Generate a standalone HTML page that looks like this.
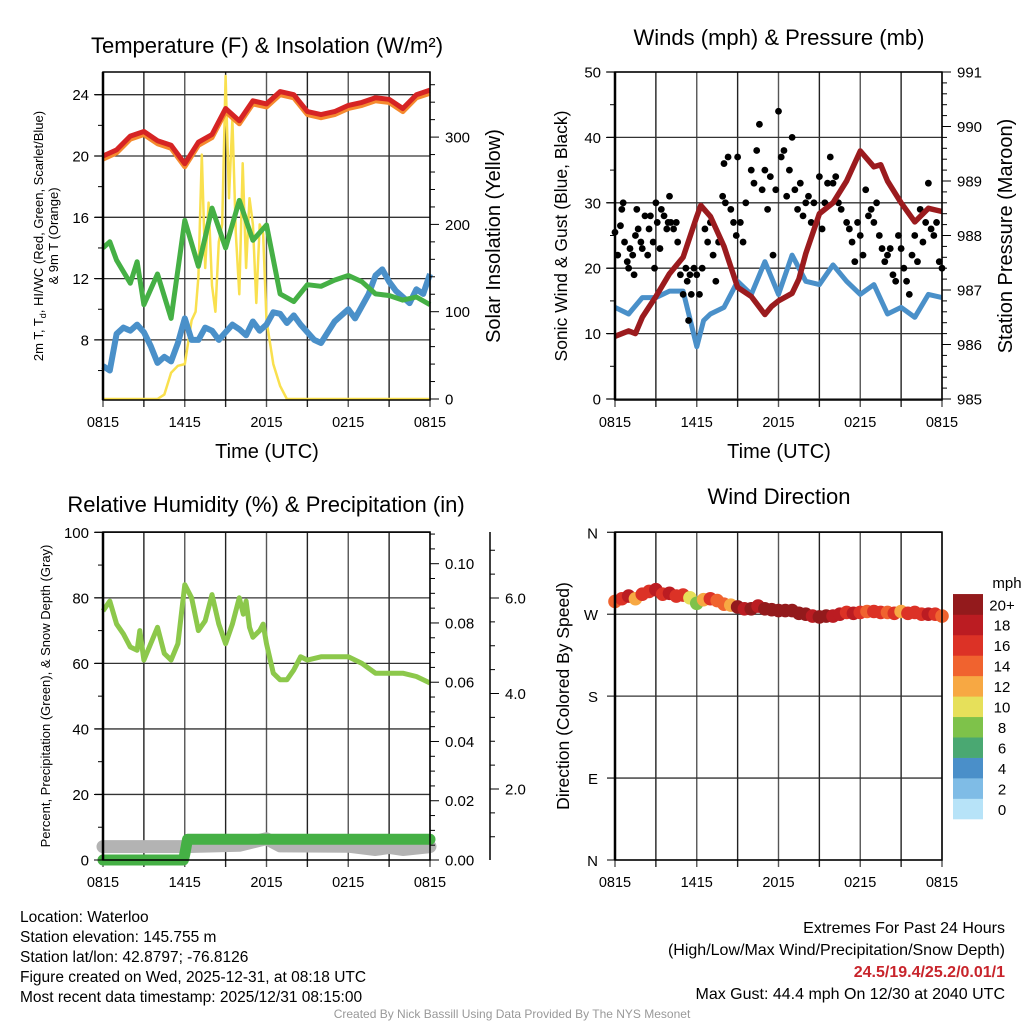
<!DOCTYPE html>
<html><head><meta charset="utf-8"><style>
html,body{margin:0;padding:0;background:#fff;}
svg{display:block;font-family:"Liberation Sans",Arial,sans-serif;}
</style></head><body>
<svg id="fig" width="1024" height="1024" viewBox="0 0 1024 1024" xmlns="http://www.w3.org/2000/svg">
<g id="layer"></g>
<g font-size="15.5" fill="#000">
<text x="20" y="922">Location: Waterloo</text>
<text x="20" y="942">Station elevation: 145.755 m</text>
<text x="20" y="962">Station lat/lon: 42.8797; -76.8126</text>
<text x="20" y="982">Figure created on Wed, 2025-12-31, at 08:18 UTC</text>
<text x="20" y="1002">Most recent data timestamp: 2025/12/31 08:15:00</text>
</g>
<g text-anchor="end" font-size="16">
<text x="1005" y="933">Extremes For Past 24 Hours</text>
<text x="1005" y="955">(High/Low/Max Wind/Precipitation/Snow Depth)</text>
<text x="1005" y="977" fill="#c8242b" font-weight="bold">24.5/19.4/25.2/0.01/1</text>
<text x="1005" y="999">Max Gust: 44.4 mph On 12/30 at 2040 UTC</text>
</g>
<text x="512" y="1018" text-anchor="middle" font-size="12" fill="#999">Created By Nick Bassill Using Data Provided By The NYS Mesonet</text>
</svg>
<script>
// ---------- DATA ----------
const timeTicks = ["0815","1415","2015","0215","0815"];
const hrs = [0,1,2,3,4,5,6,7,8,9,10,11,12,13,14,15,16,17,18,19,20,21,22,23,24];
const temp2m = [20.0,20.4,21.3,21.6,21.0,20.7,19.5,20.9,21.4,23.1,22.3,23.6,23.4,24.2,24.0,22.9,22.7,22.9,23.3,23.5,23.8,23.7,23.1,24.0,24.3];
const temp9m = [19.8,20.2,21.1,21.4,20.8,20.5,19.3,20.7,21.2,22.9,22.1,23.4,23.2,24.0,23.8,22.7,22.5,22.7,23.1,23.3,23.6,23.5,22.9,23.8,24.1];
const dewHrs = [0,0.5,1,2,2.5,3,4,5,6,7,8,9,10,11,12,13,14,15,16,17,18,19,20,21,22,23,24];
const dewpt = [14.0,14.4,13.2,11.7,13.1,10.3,12.3,9.4,15.8,12.8,16.6,14.0,17.1,14.5,15.5,11.0,10.5,11.6,11.5,11.9,12.2,11.8,11.0,10.9,10.6,10.8,10.3];
const chillHrs = [0,0.5,1,1.5,2,2.5,3,3.5,4,4.5,5,5.5,6,6.5,7,7.5,8,8.5,9,9.5,10,10.5,11,11.5,12,12.5,13,13.5,14,14.5,15,15.5,16,16.5,17,17.5,18,18.5,19,19.5,20,20.5,21,21.5,22,22.5,23,23.5,24];
const windchill = [6.3,6.0,8.4,8.8,8.6,9.0,8.5,7.6,6.5,6.9,6.6,7.8,9.4,8.0,8.0,8.8,8.6,8.0,8.5,9.0,8.7,8.3,9.2,8.6,9.0,9.8,9.7,9.1,9.6,9.0,8.5,8.0,7.8,8.5,9.2,9.6,10.0,9.4,10.2,11.0,12.2,12.6,11.8,11.2,10.8,10.4,11.3,11.0,12.3];
const solarHrs = [0,4,4.5,5,5.5,6,6.5,6.8,7,7.25,7.5,7.75,8,8.25,8.5,8.75,9,9.25,9.5,9.75,10,10.25,10.5,10.75,11,11.25,11.5,11.75,12,12.5,13,13.5,24];
const solar = [0,0,5,30,38,40,90,100,140,280,150,225,130,100,180,200,370,230,320,190,120,270,150,230,200,110,200,190,90,40,15,0,0];

const windHrs = [0,1,2,3,4,5,6,6.5,7,8,9,10,11,12,13,14,15,16,17,18,19,20,21,22,23,24];
const windSpd = [14,13,15.5,15.5,16.5,16.5,8,12,13,14,18,16,21,16,22,18,17.5,20.5,18,16,17.5,13,14,12.5,16,15.5];
const presHrs = [0,1,1.5,2,3,4,5,6,6.3,7,8,9,10,11,11.5,12,13,13.5,14,15,16,17,18,19,19.5,20,21,22,23,24];
const pressure = [986.15,986.25,986.2,986.5,986.88,987.3,987.6,988.35,988.55,988.35,987.8,987.05,986.88,986.55,986.7,986.8,986.94,987.2,987.67,988.4,988.6,989.0,989.55,989.26,989.3,989.0,988.6,988.25,988.5,988.44];
const gusts = [[0,25.5],[0.2,22],[0.4,26.5],[0.5,29],[0.6,30],[0.7,24],[0.9,21],[1,20],[1.1,23],[1.3,22],[1.4,19],[1.5,25],[1.6,29],[1.7,26],[1.9,24],[2,23],[2.2,28],[2.4,22],[2.5,26],[2.6,28],[2.8,24],[2.9,20],[3,30],[3.1,27],[3.3,23],[3.4,29],[3.6,28],[3.8,26],[3.9,27],[4,31],[4.1,27],[4.3,26],[4.5,27],[4.6,24],[4.8,19],[5,16],[5.2,20],[5.3,18],[5.4,12],[5.5,19],[5.6,16],[5.8,20],[6,19],[6.2,16],[6.4,20],[6.6,26],[6.8,24],[7,27],[7.2,22],[7.4,18],[7.6,24],[7.9,31],[8,36],[8.1,30],[8.3,37],[8.5,29],[8.7,27],[8.9,25],[9,37],[9.2,27],[9.4,24],[9.6,30],[10,35],[10.2,33],[10.4,38],[10.6,42],[10.8,32],[11,35],[11.2,29],[11.4,34],[11.6,22],[11.8,32],[12,44],[12.2,37],[12.4,38],[12.6,31],[12.8,35],[13,40],[13.2,32],[13.4,29],[13.6,33],[13.8,28],[14,30],[14.2,31],[14.4,27],[14.6,30],[15,34],[15.2,26],[15.4,30],[15.6,33],[15.8,37],[16,33],[16.2,34],[16.4,30],[16.6,29],[17,27],[17.2,26],[17.4,24],[17.6,21],[17.8,27],[18,25],[18.2,22],[18.4,32],[18.6,28],[18.8,29],[19,27],[19.2,30],[19.4,25],[19.6,23],[19.8,21],[20,22],[20.2,23],[20.4,19],[20.6,18],[20.8,25],[21,23],[21.2,20],[21.4,18],[21.6,16],[21.8,22],[22,25],[22.2,21],[22.4,29],[22.6,24],[22.8,27],[23,33],[23.2,26],[23.4,25],[23.6,27],[23.8,21],[24,20]];

const rhHrs = [0,0.5,1,1.5,2,2.5,2.7,3,3.5,4,4.5,5,5.5,6,6.5,7,7.5,8,8.5,9,9.5,10,10.3,10.5,10.75,11,11.5,11.75,12,12.5,13,13.5,14,14.5,15,16,17,18,19,20,21,22,23,24];
const rh = [76,79,72,69,65,64,70,61,66,71,63,61,66,84,80,70,73,81,72,66,72,80,75,79,71,68,70,72,66,57,55,55,58,62,61,62,62,62,60,57,57,57,56,54];
const precipHrs = [0,5.9,6.0,6.2,24];
const precip = [0,0,0.002,0.007,0.007];
const snowHrs = [0,6,10,12,13,18,20,21,22,24];
const snow = [4.1,4.1,4.5,6.5,4.3,4.2,3.2,3.8,3.2,4.1];

const dirHrs = chillHrs;
const direction = [284,287,290,287,292,295,297,292,293,290,291,288,282,286,287,285,281,280,278,276,276,279,276,275,274,274,274,271,270,268,267,268,268,270,272,271,272,273,273,272,272,271,273,271,272,270,270,270,268];
const dirSpeed = [14,16,18,13,16,17,18,17,18,16,17,11,8,12,16,14,14,12,20,19,20,18,20,20,20,20,20,20,20,19,20,20,18,18,17,18,17,14,17,16,14,16,13,17,16,17,18,16,14];
const cbLabels = ["0","2","4","6","8","10","12","14","16","18","20+"];
const cbColors = ["#b7e3f8","#7fbce6","#4a8fc9","#4aa872","#7ec24a","#e6e05a","#f7a843","#f0632f","#dc3226","#bb1c22","#931a1c"];

// ---------- DRAWING ----------
const NS="http://www.w3.org/2000/svg";
const root=document.getElementById('layer');
function el(tag,attrs,parent){const e=document.createElementNS(NS,tag);for(const k in attrs)e.setAttribute(k,attrs[k]);(parent||root).appendChild(e);return e;}
function txt(s,attrs,parent){const e=el('text',attrs,parent);e.textContent=s;return e;}
function scale(d0,d1,r0,r1){return v=>r0+(v-d0)/(d1-d0)*(r1-r0);}
function pathFrom(xs,ys,fx,fy){return xs.map((h,i)=>(i?'L':'M')+fx(h).toFixed(1)+','+fy(ys[i]).toFixed(1)).join('');}

function panel(ox,oy,name){
  const g=el('g',{},root);
  
  
  const x0=ox,x1=ox+327,y0=oy,y1=oy+328;
  return {g,x0,x1,y0,y1,fx:scale(0,24,x0,x1)};
}
function frame(p,hLines,labelTicks){
  for(let i=0;i<=8;i++){const x=p.fx(i*3);
    const l=el('line',{x1:x,x2:x,y1:p.y0,y2:p.y1+7,stroke:i%2?'#222':'#555','stroke-width':1.4},p.g);
    
    }
  hLines.forEach(y=>{const l=el('line',{x1:p.x0-8,x2:p.x1,y1:y,y2:y,stroke:'#333','stroke-width':1.3},p.g);
    
    });
  if(labelTicks){timeTicks.forEach((t,i)=>{const tt=txt(t,{x:p.fx(i*6),y:p.y1+27,'text-anchor':'middle','font-size':14.5},p.g);
    
    });}
}
function border(p){
  const r=el('rect',{x:p.x0,y:p.y0,width:p.x1-p.x0,height:p.y1-p.y0,fill:'none',stroke:'#000','stroke-width':1.5},p.g);
  
  
  el('line',{x1:p.x0,x2:p.x0,y1:p.y0,y2:p.y1,stroke:'#000','stroke-width':2.5},p.g);
}
function leftAxis(p,fy,majors,minors,labels){
  majors.forEach((v,i)=>{const y=fy(v);el('line',{x1:p.x0-9,x2:p.x0,y1:y,y2:y,stroke:'#000'},p.g);
    const t=txt(labels[i],{x:p.x0-14,y:y+5.5,'text-anchor':'end','font-size':15},p.g);
    
    });
  minors.forEach(v=>{const y=fy(v);el('line',{x1:p.x0-5,x2:p.x0,y1:y,y2:y,stroke:'#000'},p.g);});
}
function rightAxis(p,fy,majors,minors,labels,x){
  x=x||p.x1;
  majors.forEach((v,i)=>{const y=fy(v);el('line',{x1:x,x2:x+9,y1:y,y2:y,stroke:'#000'},p.g);
    const t=txt(labels[i],{x:x+15,y:y+5.5,'font-size':15},p.g);
    
    });
  minors.forEach(v=>{const y=fy(v);el('line',{x1:x,x2:x+5,y1:y,y2:y,stroke:'#000'},p.g);});
}
function title(s,x,y,size,name,rot){
  const a={x:x,y:y,'text-anchor':'middle','font-size':size};
  if(rot)a.transform=`rotate(-90 ${x} ${y})`;
  const t=txt(s,a);
  
  
  return t;
}
function range(a,b,s){const r=[];for(let v=a;v<=b+1e-9;v+=s)r.push(+v.toFixed(4));return r;}

// ===== Panel 1: Temperature =====
{
 const p=panel(103,72,'temperature-panel');
 const fy=scale(24,20,94.7,156.0);
 const fs=scale(0,100,399,311.7);
 frame(p,[24,20,16,12,8].map(fy),true);
 const ps=el('path',{d:pathFrom(solarHrs,solar,p.fx,fs),fill:'none',stroke:'#f9e04e','stroke-width':2.5,'stroke-linejoin':'round'},p.g);
 
 
 const pb=el('path',{d:pathFrom(chillHrs,windchill,p.fx,fy),fill:'none',stroke:'#4a90c9','stroke-width':6,'stroke-linejoin':'round'},p.g);
 
 
 const pg=el('path',{d:pathFrom(dewHrs,dewpt,p.fx,fy),fill:'none',stroke:'#45b045','stroke-width':5,'stroke-linejoin':'round'},p.g);
 
 
 const po=el('path',{d:pathFrom(hrs,temp9m,p.fx,fy),fill:'none',stroke:'#f58a2e','stroke-width':5,'stroke-linejoin':'round'},p.g);
 
 
 const pr=el('path',{d:pathFrom(hrs,temp2m,p.fx,fy),fill:'none',stroke:'#d62424','stroke-width':5,'stroke-linejoin':'round'},p.g);
 
 
 border(p);
 leftAxis(p,fy,[24,20,16,12,8],[22,18,14,10,6],["24","20","16","12","8"]);
 rightAxis(p,fs,[0,100,200,300],range(20,360,20).filter(v=>v%100),["0","100","200","300"]);
 title('Temperature (F) & Insolation (W/m²)',267,53,22,'temperature-panel-title');
 title('Time (UTC)',267,458,20,'temperature-x-axis-title');
 const yt=title('',43,236,13,'temperature-y-axis-title',true);
 yt.appendChild(document.createTextNode('2m T, T'));
 const sub=el('tspan',{'font-size':9,dy:3},yt); sub.textContent='d';
 const rest=el('tspan',{dy:-3},yt); rest.textContent=', HI/WC (Red, Green, Scarlet/Blue)';
 title('& 9m T (Orange)',58,236,13,'temperature-y-axis-title-line2',true);
 title('Solar Insolation (Yellow)',500,236,20,'solar-y-axis-title',true);
}
// ===== Panel 2: Winds =====
{
 const p=panel(615,72,'winds-panel');
 const fy=scale(0,50,399,72);
 const fp=scale(985,991,399,72);
 frame(p,[50,40,30,20,10,0].map(fy),true);
 const pb=el('path',{d:pathFrom(windHrs,windSpd,p.fx,fy),fill:'none',stroke:'#4a90c9','stroke-width':5,'stroke-linejoin':'round'},p.g);
 
 
 gusts.forEach(d=>{const c=el('circle',{cx:p.fx(d[0]),cy:fy(d[1]),r:3.4,fill:'#000'},p.g);
   
   });
 const pm=el('path',{d:pathFrom(presHrs,pressure,p.fx,fp),fill:'none',stroke:'#9b1b1e','stroke-width':5.5,'stroke-linejoin':'round'},p.g);
 
 
 border(p);
 leftAxis(p,fy,[0,10,20,30,40,50],[5,15,25,35,45],["0","10","20","30","40","50"]);
 rightAxis(p,fp,[985,986,987,988,989,990,991],range(985.2,990.8,0.2).filter(v=>Math.abs(v-Math.round(v))>0.01),["985","986","987","988","989","990","991"]);
 title('Winds (mph) & Pressure (mb)',779,45,22,'winds-panel-title');
 title('Time (UTC)',779,458,20,'winds-x-axis-title');
 title('Sonic Wind & Gust (Blue, Black)',567,236,17.5,'wind-y-axis-title',true);
 title('Station Pressure (Maroon)',1012,236,20,'pressure-y-axis-title',true);
}
// ===== Panel 3: RH =====
{
 const p=panel(103,532,'humidity-panel');
 const fy=scale(0,100,860,532.3);
 const fpc=scale(0,0.1,860,563.7);
 const fsn=scale(2,6,789,598);
 frame(p,[100,80,60,40,20].map(fy),true);
 const psn=el('path',{d:pathFrom(snowHrs,snow,p.fx,fy),fill:'none',stroke:'#b3b3b3','stroke-width':13,'stroke-linecap':'round','stroke-linejoin':'round'},p.g);
 
 
 const pp=el('path',{d:pathFrom(precipHrs,precip,p.fx,fpc),fill:'none',stroke:'#45b045','stroke-width':11,'stroke-linecap':'round','stroke-linejoin':'round'},p.g);
 
 
 const prh=el('path',{d:pathFrom(rhHrs,rh,p.fx,fy),fill:'none',stroke:'#8cc84b','stroke-width':5,'stroke-linejoin':'round'},p.g);
 
 
 border(p);
 leftAxis(p,fy,[0,20,40,60,80,100],[10,30,50,70,90],["0","20","40","60","80","100"]);
 rightAxis(p,fpc,[0,0.02,0.04,0.06,0.08,0.1],range(0.005,0.11,0.005).filter(v=>Math.round(v*1000)%20),["0.00","0.02","0.04","0.06","0.08","0.10"]);
 const ax=el('line',{x1:490,x2:490,y1:532,y2:860,stroke:'#000','stroke-width':1.5},p.g);
 
 
 rightAxis(p,fsn,[2,4,6],[1,1.5,2.5,3,3.5,4.5,5,5.5,6.5,7],["2.0","4.0","6.0"],490);
 title('Relative Humidity (%) & Precipitation (in)',266,512,22,'humidity-panel-title');
 title('Percent, Precipitation (Green), & Snow Depth (Gray)',50,696,13,'humidity-y-axis-title',true);
}
// ===== Panel 4: Wind direction =====
{
 const p=panel(615,532,'wind-direction-panel');
 const fy=scale(0,360,860,532.3);
 frame(p,[360,270,180,90,0].map(fy),true);
 direction.forEach((d,i)=>{const k=Math.min(10,Math.floor(dirSpeed[i]/2));
   const c=el('circle',{cx:p.fx(dirHrs[i]),cy:fy(d),r:6.8,fill:cbColors[k]},p.g);
   
   });
 border(p);
 const dl=["N","W","S","E","N"];
 [360,270,180,90,0].forEach((v,i)=>{const t=txt(dl[i],{x:p.x0-17,y:fy(v)+6,'text-anchor':'end','font-size':15},p.g);
   
   });
 title('Wind Direction',779,504,22,'wind-direction-panel-title');
 title('Direction (Colored By Speed)',569,696,17.5,'direction-y-axis-title',true);
 const cb=el('g',{},root);
 
 
 const h=20.45;
 cbColors.forEach((c,i)=>{const y=819-(i+1)*h;
   const r=el('rect',{x:953,y:y,width:30,height:h+0.3,fill:c},cb);
   
   
   const t=txt(cbLabels[i],{x:1002,y:y+h/2+6,'text-anchor':'middle','font-size':15},cb);
   
   });
 const u=txt('mph',{x:1007,y:588,'text-anchor':'middle','font-size':15},cb);
 
 
}
</script>
</body></html>
